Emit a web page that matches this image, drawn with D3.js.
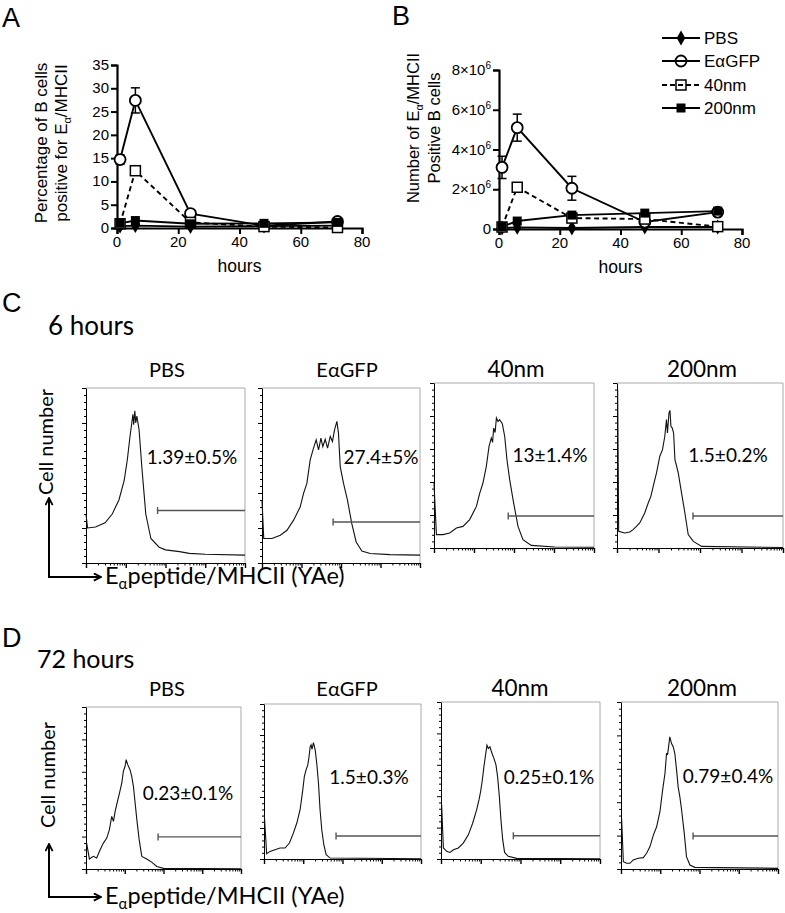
<!DOCTYPE html>
<html><head><meta charset="utf-8">
<script src="https://cdn.jsdelivr.net/npm/d3@7"></script>
<style>body{margin:0;background:#fff} svg{display:block}</style>
</head><body><svg id="c" width="785" height="913"></svg>
<script>
// ---------------- DATA ----------------
const hours = [1, 6, 24, 48, 72];
const hourTicks = [0, 20, 40, 60, 80];
const pctTicks = [0, 5, 10, 15, 20, 25, 30, 35];
const numTicks = [0, 2e6, 4e6, 6e6, 8e6];
const numTickLabels = ["0", "2×10", "4×10", "6×10", "8×10"];
const seriesNames = ["PBS", "EαGFP", "40nm", "200nm"];

// Panel A: % of B cells positive for Ea/MHCII
const pctPBS    = [0.4, 0.5, 0.3, 0.4, 0.5];
const pctEaGFP  = [14.7, 27.4, 3.1, 0.5, 1.4];
const pctEaGFPErr = [1.0, 2.7, 0.3, 0.2, 0.3];
const pct40     = [0.9, 12.3, 1.2, 0.3, 0.1];
const pct200    = [1.0, 1.6, 0.9, 1.0, 1.2];

// Panel B: number of Ea/MHCII positive B cells
const numPBS    = [0.05e6, 0.08e6, 0.05e6, 0.1e6, 0.1e6];
const numEaGFP  = [3.1e6, 5.1e6, 2.05e6, 0.35e6, 0.85e6];
const numEaGFPErr = [0.56e6, 0.68e6, 0.6e6, 0.1e6, 0.1e6];
const num40     = [0.1e6, 2.1e6, 0.55e6, 0.5e6, 0.12e6];
const num200    = [0.12e6, 0.4e6, 0.7e6, 0.8e6, 0.9e6];

// Histograms: [channel (% of log axis), count (% of max)]
const h6PBS = [[0,28],[1,20],[6,20.6],[12,23],[16.5,28],[20.7,36],[24,47],[26,59],[27.5,71],[28.8,80],[29.5,85],[30,79],[30.7,87],[31.3,80],[32,84],[33.4,76],[35.1,55],[37.6,28],[40.8,14],[46,9],[50,7.5],[58.8,6.5],[65,5.5],[75,5],[100,4.5]];
const h6EaGFP = [[0,36],[1.1,14],[6.3,14],[11.6,15.9],[15.8,18.7],[20,24.5],[24.2,32.1],[26.3,39.8],[28.4,45.5],[30.5,58.9],[32.6,65.6],[34.3,70.4],[35.8,64.6],[37.3,71.3],[38.5,66.5],[40,70.7],[41.5,65.6],[43.2,72.3],[44.6,69.4],[45.9,76.1],[47.4,80.9],[48.4,74.2],[49.5,55.1],[51.6,45.5],[54.1,35.9],[56.8,22.6],[59.6,12],[63.2,6.9],[68.4,5.4],[81,4.8],[100,4.5]];
const h6_40 = [[0,39.4],[1.5,8.1],[5.6,8.1],[9.8,9.1],[14,12.1],[18.1,13.1],[22.3,17.2],[26.5,25.2],[28.6,33.3],[30.6,39.4],[32.7,49.5],[34.4,61.6],[35.8,66.7],[36.6,64],[37.3,72.7],[38.2,70],[39,78.8],[40,76.7],[41,77.8],[42.7,75.3],[44.2,67.6],[45.6,53.5],[47.3,41.4],[49.4,29.3],[52.5,13.1],[55.6,5],[60.8,1.6],[75.4,0.6],[100,0.5]];
const h6_200 = [[0.4,96],[1,10.1],[4.6,9.1],[7.7,9.7],[9.7,11.1],[11.7,13.1],[13.7,15.2],[16.7,21.2],[18.8,27.3],[20.4,31.3],[21.8,37.4],[23.8,45.5],[25.8,55.6],[27.4,59.6],[28.8,67.7],[29.8,77.8],[30.4,69.7],[31.3,81.8],[31.9,83.4],[32.5,73.7],[33.3,72.7],[34.1,69.7],[34.9,53.5],[36.9,45.5],[38.9,33.3],[40.9,21.2],[42.9,8.1],[46,4],[51,1],[100,0.3]];
const h72PBS = [[0.4,16],[2.2,6.2],[4.7,7.8],[6.9,6.8],[9.1,11.9],[11.2,16],[13.4,19.1],[15.1,24.3],[16.6,32.5],[17.7,29.4],[18.8,35.6],[20.3,41.8],[21.6,46.9],[23.1,53.1],[24.1,60.3],[25.2,63.4],[25.9,67.5],[26.9,64.4],[28.4,61.3],[29.5,57.2],[30.6,51],[31.7,40.7],[32.8,30.5],[34.3,18.1],[36,7.8],[39.2,6.2],[42.5,4.1],[45.7,1.6],[50,0.4],[100,0.2]];
const h72EaGFP = [[0.2,28.5],[1.7,3.4],[3.8,4.9],[7,6],[10.2,7.1],[13.4,7.1],[16.2,10.3],[18.7,16.7],[20.9,23.2],[23,31.8],[24.7,44.6],[25.7,53.2],[26.8,57.5],[27.9,60.7],[28.7,66.1],[29.4,72.5],[30,73.6],[30.6,70.8],[31.5,75.1],[32.6,70.4],[33.6,61.8],[34.7,48.9],[35.7,31.8],[36.8,18.9],[38.1,9.2],[39.6,2.8],[42.1,0.6],[100,0.2]];
const h72_40 = [[0.4,34.5],[1.5,7],[3.6,4.9],[5.7,4.2],[7.8,5.9],[10.9,7],[14,10.1],[17.2,15.4],[19.9,22.8],[22.4,31.3],[23.9,37.6],[24.9,42.9],[26,50.3],[27,58.8],[28.1,66.8],[28.9,72.5],[29.8,70.4],[30.8,71.5],[32.1,67.2],[33.3,64.1],[34.6,59.8],[35.6,52.4],[36.7,39.7],[37.7,24.9],[38.8,12.3],[40,4.2],[42.3,1.7],[47.6,0.4],[100,0.2]];
const h72_200 = [[0.4,30.3],[1.5,4.4],[3.6,3.4],[5.7,3.4],[7.8,5.4],[11,6.4],[14.2,6.8],[16.3,9.4],[18.4,13.3],[20.6,20.3],[22.7,25.3],[24.8,34.3],[26.5,47.2],[28,57.2],[29,69.1],[29.7,68.7],[30.3,73.1],[31.1,79.1],[32.2,75.1],[33.3,73.1],[34.3,69.1],[35.4,59.2],[36.4,49.2],[37.5,43.2],[38.6,35.3],[40.3,21.3],[41.7,7.4],[43.9,2.4],[47,1],[100,0.4]];
const pct6hLabels  = ["1.39±0.5%", "27.4±5%", "13±1.4%", "1.5±0.2%"];
const pct72hLabels = ["0.23±0.1%", "1.5±0.3%", "0.25±0.1%", "0.79±0.4%"];
const gate6h  = [45, 45, 46.4, 45.8];   // gate start (channel %)
const gate72h = [46.5, 45.9, 45.5, 45.9];
const fluorDecades = [10, 100, 1000, 10000, 100000];

// ---------------- LAYOUT ----------------
const svg = d3.select("#c");
const AR = "'Liberation Sans', Arial, sans-serif";
const CAL = "Lato, 'Open Sans', sans-serif";

function letter(t, x, y) {
  svg.append("text").attr("x", x).attr("y", y).text(t)
    .attr("font-family", AR).attr("font-size", 27).attr("fill", "#000");
}
letter("A", 2, 27); letter("B", 392, 25); letter("C", 2, 312); letter("D", 2, 647);

// ---- line chart helper ----
function lineChart(opt) {
  const g = svg.append("g");
  const x = d3.scaleLinear().domain([0, 80]).range([opt.x0, opt.x1]);
  const y = d3.scaleLinear().domain([0, opt.ymax]).range([opt.yb, opt.yt]);
  const yAx = g.append("g").attr("transform", `translate(${opt.x0},0)`)
    .call(d3.axisLeft(y).tickValues(opt.yticks).tickSize(6).tickFormat(""));
  const xAx = g.append("g").attr("transform", `translate(0,${opt.yb})`)
    .call(d3.axisBottom(x).tickValues(hourTicks).tickSize(6).tickFormat(""));
  [yAx, xAx].forEach(a => {
    a.selectAll("path").attr("stroke", "#000").attr("stroke-width", 2.2);
    a.selectAll("line").attr("stroke", "#000").attr("stroke-width", 2);
  });
  hourTicks.forEach(h => g.append("text").attr("x", x(h)).attr("y", opt.yb + 19)
    .attr("text-anchor", "middle").attr("font-family", AR).attr("font-size", 15).text(h));
  opt.yticks.forEach((v, i) => {
    const t = g.append("text").attr("x", opt.x0 - 8).attr("y", y(v) + 5)
      .attr("text-anchor", "end").attr("font-family", AR).attr("font-size", 15);
    if (opt.sup && i > 0) {
      t.append("tspan").text(numTickLabels[i]);
      t.append("tspan").attr("font-size", 10).attr("dy", -6).text("6");
    } else t.text(opt.sup ? numTickLabels[i] : v);
  });
  g.append("text").attr("x", (opt.x0 + opt.x1) / 2).attr("y", opt.yb + 44)
    .attr("text-anchor", "middle").attr("font-family", AR).attr("font-size", 17.5).text("hours");

  const line = d3.line().x((d, i) => x(hours[i])).y(d => y(d));
  const dash = [null, null, "5,3.5", null];
  opt.series.forEach((s, k) => {
    g.append("path").attr("d", line(s)).attr("fill", "none").attr("stroke", "#000")
      .attr("stroke-width", 1.9).attr("stroke-dasharray", dash[k]);
  });
  opt.series[1].forEach((v, i) => {
    const e = opt.err[i]; const cx = x(hours[i]);
    g.append("line").attr("x1", cx).attr("x2", cx).attr("y1", y(v - e)).attr("y2", y(v + e))
      .attr("stroke", "#000").attr("stroke-width", 1.5);
    [v - e, v + e].forEach(w => g.append("line").attr("x1", cx - 4.5).attr("x2", cx + 4.5)
      .attr("y1", y(w)).attr("y2", y(w)).attr("stroke", "#000").attr("stroke-width", 1.5));
  });
  opt.series.forEach((s, k) => s.forEach((v, i) => marker(g, k, x(hours[i]), y(v), "#fff")));
}

function marker(g, k, cx, cy, fill) {
  if (k === 0) {
    g.append("path").attr("d", d3.symbol(d3.symbolDiamond, 64)())
      .attr("transform", `translate(${cx},${cy})`).attr("fill", "#000");
  } else if (k === 1) {
    g.append("circle").attr("cx", cx).attr("cy", cy).attr("r", 5.5)
      .attr("fill", fill).attr("stroke", "#000").attr("stroke-width", 1.8);
  } else if (k === 2) {
    g.append("rect").attr("x", cx - 5).attr("y", cy - 5).attr("width", 10).attr("height", 10)
      .attr("fill", fill).attr("stroke", "#000").attr("stroke-width", 1.5);
  } else {
    g.append("rect").attr("x", cx - 4.5).attr("y", cy - 4.5).attr("width", 9).attr("height", 9)
      .attr("fill", "#000");
  }
}

lineChart({x0: 117, x1: 362, yb: 228, yt: 65, ymax: 35, yticks: pctTicks,
  series: [pctPBS, pctEaGFP, pct40, pct200], err: pctEaGFPErr});
lineChart({x0: 499, x1: 742, yb: 229, yt: 70, ymax: 8e6, yticks: numTicks, sup: true,
  series: [numPBS, numEaGFP, num40, num200], err: numEaGFPErr});

function rotLabel(x, y, parts, size, fam) {
  const t = svg.append("text").attr("transform", `translate(${x},${y}) rotate(-90)`)
    .attr("text-anchor", "middle").attr("font-family", fam).attr("font-size", size);
  parts.forEach(p => {
    const ts = t.append("tspan").text(p.t);
    if (p.sub) ts.attr("font-size", size * 0.65).attr("dy", size * 0.25);
    if (p.back) ts.attr("dy", -size * 0.25);
  });
}
rotLabel(47, 143, [{t: "Percentage of B cells"}], 17, AR);
rotLabel(67, 143, [{t: "positive for E"}, {t: "α", sub: true}, {t: "/MHCII", back: true}], 17, AR);
rotLabel(419, 128, [{t: "Number of E"}, {t: "α", sub: true}, {t: "/MHCII", back: true}], 16.5, AR);
rotLabel(440, 128, [{t: "Positive B cells"}], 16.5, AR);

const legY = [38, 61, 85, 108];
seriesNames.forEach((n, k) => {
  const g = svg.append("g");
  g.append("line").attr("x1", 662).attr("x2", 700).attr("y1", legY[k]).attr("y2", legY[k])
    .attr("stroke", "#000").attr("stroke-width", 1.9).attr("stroke-dasharray", k === 2 ? "5,3" : null);
  marker(g, k, 681, legY[k], "none");
  g.append("text").attr("x", 704).attr("y", legY[k] + 6).attr("font-family", AR)
    .attr("font-size", 17).text(n);
});

// ---------------- HISTOGRAMS ----------------
const boxes6h = [
  {x0: 86, x1: 245, y0: 388, y1: 563, tx: 167, ty: 377, ts: 20, lx: 192, ly: 464, gy: 30},
  {x0: 262, x1: 420, y0: 388, y1: 563, tx: 347, ty: 377, ts: 20, lx: 381, ly: 464, gy: 23.4},
  {x0: 434, x1: 594, y0: 383, y1: 548, tx: 516, ty: 377, ts: 22.5, lx: 550, ly: 462, gy: 19.4},
  {x0: 617, x1: 783, y0: 383, y1: 548, tx: 702, ty: 377, ts: 22.5, lx: 728, ly: 462, gy: 19.4}
];
const boxes72h = [
  {x0: 86, x1: 241, y0: 707, y1: 869, tx: 167, ty: 696, ts: 20, lx: 188, ly: 800, gy: 19.8},
  {x0: 264, x1: 421, y0: 704, y1: 859, tx: 347, ty: 696, ts: 20, lx: 369, ly: 784, gy: 14.8},
  {x0: 441, x1: 600, y0: 702, y1: 859, tx: 520, ty: 696, ts: 22.5, lx: 549, ly: 784, gy: 14.8},
  {x0: 621, x1: 778, y0: 702, y1: 869, tx: 702, ty: 696, ts: 22.5, lx: 728, ly: 783, gy: 19.8}
];

function histPanel(b, data, title, label, gate) {
  const g = svg.append("g");
  const x = d3.scaleLinear().domain([0, 100]).range([b.x0, b.x1]);
  const xl = d3.scaleLog().domain([fluorDecades[0], fluorDecades[4]]).range([b.x0, b.x1]);
  const y = d3.scaleLinear().domain([0, 100]).range([b.y1, b.y0]);
  g.append("path").attr("d", `M${b.x0},${b.y0}H${b.x1}V${b.y1}`).attr("fill", "none")
    .attr("stroke", "#aaa").attr("stroke-width", 1);
  const minor = [];
  for (let i = 0; i < 4; i++) for (let k = 2; k <= 9; k++) minor.push(k * fluorDecades[i]);
  const bx = g.append("g").attr("transform", `translate(0,${b.y1})`);
  bx.call(d3.axisBottom(xl).tickValues(fluorDecades).tickSize(5).tickFormat("").tickSizeOuter(0));
  bx.selectAll("line").attr("stroke-width", 1.4);
  const bm = g.append("g").attr("transform", `translate(0,${b.y1})`);
  bm.call(d3.axisBottom(xl).tickValues(minor).tickSize(2.5).tickFormat("").tickSizeOuter(0));
  bm.select("path").remove();
  const ly = g.append("g").attr("transform", `translate(${b.x0},0)`);
  ly.call(d3.axisLeft(y).tickValues([0, 20, 40, 60, 80, 100]).tickSize(4).tickFormat("").tickSizeOuter(0));
  const lm = g.append("g").attr("transform", `translate(${b.x0},0)`);
  lm.call(d3.axisLeft(y).tickValues(d3.range(4, 100, 4).filter(v => v % 20)).tickSize(2).tickFormat("").tickSizeOuter(0));
  lm.select("path").remove();
  g.selectAll("path.domain").attr("stroke", "#000");
  g.append("path").attr("d", d3.line().x(d => x(d[0])).y(d => y(d[1]))(data))
    .attr("fill", "none").attr("stroke", "#111").attr("stroke-width", 1.1);
  const gy = y(b.gy);
  g.append("line").attr("x1", x(gate)).attr("x2", b.x1).attr("y1", gy).attr("y2", gy)
    .attr("stroke", "#555").attr("stroke-width", 1.4);
  g.append("line").attr("x1", x(gate)).attr("x2", x(gate)).attr("y1", gy - 3.5).attr("y2", gy + 3.5)
    .attr("stroke", "#555").attr("stroke-width", 1.4);
  svg.append("text").attr("x", b.tx).attr("y", b.ty).attr("text-anchor", "middle")
    .attr("font-family", CAL).attr("font-size", b.ts).text(title);
  svg.append("text").attr("x", b.lx).attr("y", b.ly).attr("text-anchor", "middle")
    .attr("font-family", CAL).attr("font-size", 19).text(label);
}

const hists6 = [h6PBS, h6EaGFP, h6_40, h6_200];
const hists72 = [h72PBS, h72EaGFP, h72_40, h72_200];
boxes6h.forEach((b, i) => histPanel(b, hists6[i], seriesNames[i], pct6hLabels[i], gate6h[i]));
boxes72h.forEach((b, i) => histPanel(b, hists72[i], seriesNames[i], pct72hLabels[i], gate72h[i]));

svg.append("text").attr("x", 48).attr("y", 335).attr("font-family", CAL).attr("font-size", 26).text("6 hours");
svg.append("text").attr("x", 37).attr("y", 668).attr("font-family", CAL).attr("font-size", 25).text("72 hours");

svg.append("defs").append("marker").attr("id", "ah").attr("viewBox", "0 0 10 10")
  .attr("refX", 9).attr("refY", 5).attr("markerWidth", 9).attr("markerHeight", 9)
  .attr("markerUnits", "userSpaceOnUse").attr("orient", "auto")
  .append("path").attr("d", "M1,1L9,5L1,9").attr("fill", "none").attr("stroke", "#000").attr("stroke-width", 2);

function arrows(cy, top, textX, textY) {
  svg.append("path").attr("d", `M49,${cy}V${top}`).attr("stroke", "#000").attr("stroke-width", 2)
    .attr("fill", "none").attr("marker-end", "url(#ah)");
  svg.append("path").attr("d", `M48,${cy}H101`).attr("stroke", "#000").attr("stroke-width", 2)
    .attr("fill", "none").attr("marker-end", "url(#ah)");
  const t = svg.append("text").attr("x", 105).attr("y", cy + 7).attr("font-family", CAL).attr("font-size", 23.5);
  t.append("tspan").text("E");
  t.append("tspan").attr("font-size", 15).attr("dy", 5).text("α");
  t.append("tspan").attr("dy", -5).text("peptide/MHCII (YAe)");
  svg.append("text").attr("transform", `translate(${textX},${textY}) rotate(-90)`)
    .attr("text-anchor", "middle").attr("font-family", CAL).attr("font-size", 20).text("Cell number");
}
arrows(577, 498, 53, 442);
arrows(897, 844, 55, 775);
</script></body></html>
